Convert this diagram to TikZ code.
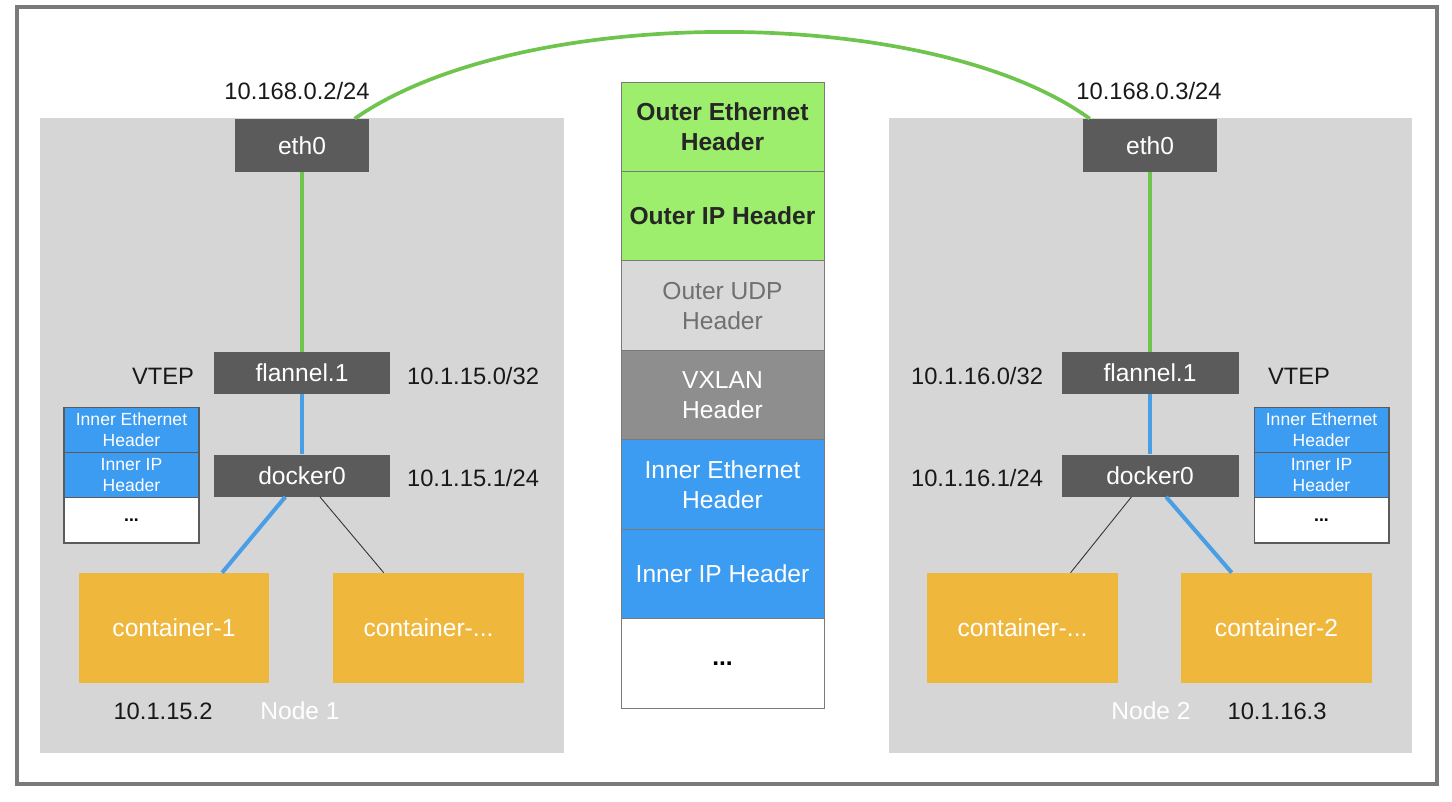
\documentclass[tikz,border=0pt]{standalone}
\usepackage{fontspec}
\setmainfont{Liberation Sans}
\definecolor{framegray}{HTML}{7A7A7A}
\definecolor{panelgray}{HTML}{D6D6D6}
\definecolor{ifgray}{HTML}{5B5B5B}
\definecolor{ctryellow}{HTML}{EFB83D}
\definecolor{hdrgreen}{HTML}{9CEE6C}
\definecolor{linegreen}{HTML}{6EC44D}
\definecolor{hdrblue}{HTML}{3C9CF2}
\definecolor{lineblue}{HTML}{4A9EE6}
\definecolor{udpgray}{HTML}{D9D9D9}
\definecolor{udptext}{HTML}{707070}
\definecolor{vxgray}{HTML}{8E8E8E}
\begin{document}
\begin{tikzpicture}[x=0.02cm, y=-0.02cm,
    iface/.style={rectangle, fill=ifgray, text=white, inner sep=0pt,
      font=\fontsize{14}{16}\selectfont, minimum width=3.54cm, minimum height=0.84cm},
    container/.style={rectangle, fill=ctryellow, text=white, inner sep=0pt,
      font=\fontsize{14}{16}\selectfont, minimum width=3.82cm, minimum height=2.2cm},
    header/.style={rectangle, draw=framegray, line width=0.5pt, inner sep=0pt, align=center,
      font=\fontsize{14}{17}\selectfont, minimum width=4.06cm, minimum height=1.789cm},
    smallhdr/.style={rectangle, draw=ifgray, line width=0.6pt, inner sep=0pt, align=center,
      font=\fontsize{10}{11.5}\selectfont, minimum width=2.7cm, minimum height=0.907cm},
    addr/.style={font=\fontsize{13.5}{16}\selectfont, text=black!90},
    nodename/.style={font=\fontsize{14}{16}\selectfont, text=white},
    gline/.style={linegreen, line width=2.1pt},
    bline/.style={lineblue, line width=2.3pt},
    kline/.style={black!80, line width=0.5pt}]

   \useasboundingbox[fill=white] (0,0) rectangle (1452,801);
   \draw[framegray, line width=1.8pt] (17,7) rectangle (1437,784);
   \fill[panelgray] (40,118) rectangle (564,753);
   \fill[panelgray] (889,118) rectangle (1412,753);

   \node[iface, minimum width=2.68cm, minimum height=1.06cm] (E1) at (302,145.5) {eth0};
   \node[iface] (F1) at (302,373) {flannel.1};
   \node[iface] (D1) at (302,475.5) {docker0};
   \node[container] (C1) at (174,628) {container-1};
   \node[container] (C1x) at (428.5,628) {container-...};

   \node[iface, minimum width=2.68cm, minimum height=1.06cm] (E2) at (1150,145.5) {eth0};
   \node[iface] (F2) at (1150,373) {flannel.1};
   \node[iface] (D2) at (1150,475.5) {docker0};
   \node[container] (C2x) at (1022.5,628) {container-...};
   \node[container] (C2) at (1276.5,628) {container-2};

   \node[smallhdr, fill=hdrblue, text=white] (P1a) at (131.5,429.7) {Inner Ethernet\\Header};
   \node[smallhdr, fill=hdrblue, text=white] (P1b) at (131.5,475) {Inner IP\\Header};
   \node[smallhdr, fill=white, text=black] (P1c) at (131.5,520.3) {\textbf{...}};
   \node[smallhdr, fill=hdrblue, text=white] (P2a) at (1321.5,429.7) {Inner Ethernet\\Header};
   \node[smallhdr, fill=hdrblue, text=white] (P2b) at (1321.5,475) {Inner IP\\Header};
   \node[smallhdr, fill=white, text=black] (P2c) at (1321.5,520.3) {\textbf{...}};

   \node[header, fill=hdrgreen, text=black!85, font=\fontsize{14}{17}\selectfont\bfseries] (H1) at (722.5,126.7) {Outer Ethernet\\Header};
   \node[header, fill=hdrgreen, text=black!85, font=\fontsize{14}{17}\selectfont\bfseries] (H2) at (722.5,216.1) {Outer IP Header};
   \node[header, fill=udpgray, text=udptext] (H3) at (722.5,305.6) {Outer UDP\\Header};
   \node[header, fill=vxgray, text=white] (H4) at (722.5,395.0) {VXLAN\\Header};
   \node[header, fill=hdrblue, text=white] (H5) at (722.5,484.4) {Inner Ethernet\\Header};
   \node[header, fill=hdrblue, text=white] (H6) at (722.5,573.9) {Inner IP Header};
   \node[header, fill=white, text=black] (H7) at (722.5,663.3) {\textbf{...}};

   \node[addr] (A1) at (297,91) {10.168.0.2/24};
   \node[addr] (V1) at (163,376) {VTEP};
   \node[addr] (A1f) at (473,376) {10.1.15.0/32};
   \node[addr] (A1d) at (473,478) {10.1.15.1/24};
   \node[addr] (A1c) at (163,711) {10.1.15.2};
   \node[nodename] (N1) at (300,711) {Node 1};

   \node[addr] (A2) at (1149,91) {10.168.0.3/24};
   \node[addr] (V2) at (1299,376) {VTEP};
   \node[addr] (A2f) at (977,376) {10.1.16.0/32};
   \node[addr] (A2d) at (977,478) {10.1.16.1/24};
   \node[addr] (A2c) at (1277,711) {10.1.16.3};
   \node[nodename] (N2) at (1151,711) {Node 2};

   \draw[gline] (E1.27) .. controls (520,3) and (930,3) .. (E2.156);
   \draw[gline] (E1.south) -- (F1.north);
   \draw[gline] (E2.south) -- (F2.north);
   \draw[bline] (F1.south) -- (D1.north);
   \draw[bline] (F2.south) -- (D2.north);
   \draw[bline] (D1.232) -- (C1.49.5);
   \draw[kline] (D1.310.6) -- (C1x.129);
   \draw[kline] (D2.229.4) -- (C2x.49.8);
   \draw[bline] (D2.307.3) -- (C2.129);

 \end{tikzpicture}
\end{document}
